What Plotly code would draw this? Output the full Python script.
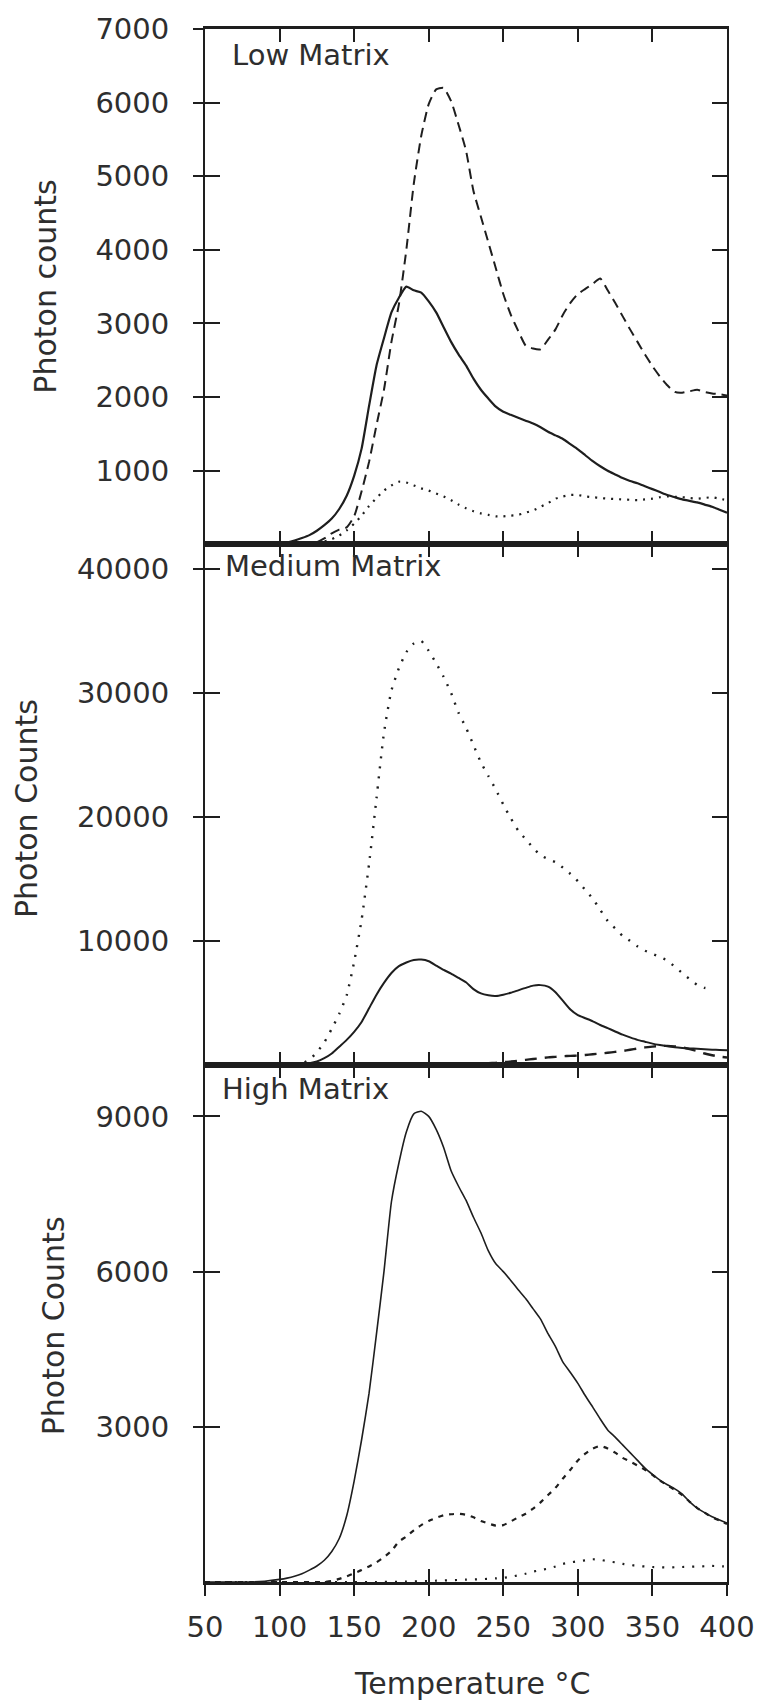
import plotly.graph_objects as go

# ---------------- data ----------------
temperature = [50, 60, 70, 80, 90,
               100, 105, 110, 115, 120, 125, 130, 135, 140, 145,
               150, 155, 160, 165, 170, 175, 180, 185, 190, 195,
               200, 205, 210, 215, 220, 225, 230, 235, 240, 245,
               250, 255, 260, 265, 270, 275, 280, 285, 290, 295,
               300, 305, 310, 315, 320, 325, 330, 335, 340, 345,
               350, 355, 360, 365, 370, 375, 380, 385, 390, 395,
               400]

low_solid = [0, 0, 0, 0, 3,
             10, 25, 50, 85, 125, 185, 260, 350, 480, 660,
             930, 1300, 1880, 2430, 2800, 3150, 3350, 3500, 3450, 3420,
             3300, 3150, 2950, 2750, 2580, 2430, 2250, 2100, 1980, 1870,
             1800, 1760, 1720, 1680, 1640, 1590, 1530, 1480, 1430, 1360,
             1290, 1210, 1130, 1060, 1000, 950, 900, 860, 830, 790,
             750, 710, 670, 640, 610, 590, 570, 540, 510, 470,
             430]
low_dashed = [0, 0, 0, 0, 0,
              0, 0, 0, 5, 10, 30, 80, 150, 200, 230,
              380, 720, 1120, 1620, 2100, 2750, 3260, 4000, 4900, 5550,
              5980, 6180, 6200, 6020, 5700, 5350, 4800, 4450, 4100, 3750,
              3400, 3120, 2900, 2700, 2660, 2650, 2780, 2920, 3120, 3280,
              3400, 3470, 3540, 3610, 3450, 3280, 3100, 2920, 2750, 2580,
              2420, 2280, 2160, 2070, 2060, 2080, 2100, 2070, 2050, 2040,
              2020]
low_dotted = [0, 0, 0, 0, 0,
              0, 0, 0, 5, 10, 20, 40, 70, 120, 190,
              280, 390, 520, 630, 730, 800, 850, 840, 800, 760,
              730, 690, 650, 600, 540, 490, 450, 420, 400, 380,
              380, 390, 400, 430, 460, 510, 560, 620, 650, 670,
              670, 650, 640, 630, 620, 615, 610, 605, 600, 610,
              620, 640, 650, 645, 640, 630, 620, 630, 640, 620,
              600]

med_solid = [0, 0, 0, 0, 0,
             0, 10, 30, 60, 120, 250, 520, 900, 1450, 2000,
             2650, 3450, 4550, 5650, 6600, 7400, 7950, 8250, 8450, 8480,
             8350, 8000, 7650, 7350, 7000, 6650, 6100, 5750, 5600, 5550,
             5650, 5800, 6000, 6200, 6380, 6420, 6300, 5850, 5150, 4450,
             4000, 3750, 3500, 3200, 2950, 2680, 2420, 2200, 2000, 1850,
             1700, 1580, 1480, 1400, 1350, 1310, 1280, 1240, 1210, 1180,
             1160]
med_dashed = [0, 0, 0, 0, 0,
              0, 0, 0, 0, 0, 0, 0, 0, 0, 0,
              0, 0, 0, 0, 0, 0, 0, 10, 20, 20,
              30, 30, 40, 40, 50, 50, 70, 90, 120, 150,
              200, 250, 320, 390, 460, 520, 590, 630, 680, 710,
              730, 780, 840, 900, 960, 1030, 1100, 1200, 1300, 1400,
              1460, 1510, 1520, 1480, 1400, 1250, 1100, 900, 760, 650,
              580]
med_dotted = [0, 0, 0, 0, 0,
              0, 0, 0, 100, 400, 1000, 1800, 2900, 4100, 5600,
              8300, 11700, 16200, 21500, 26800, 30200, 32000, 33300, 34000, 34200,
              33400, 32400, 31300, 30000, 28400, 27200, 25800, 24400, 23300, 22200,
              21000, 19900, 18900, 18200, 17500, 16900, 16600, 16350, 15900, 15400,
              14800, 14100, 13400, 12500, 11600, 11000, 10400, 10000, 9550, 9200,
              8950, 8700, 8400, 7900, 7400, 6900, 6450, 6200, 6100, None,
              None]

high_solid = [0, 0, 0, 0, 15,
              50, 75, 110, 160, 230, 310, 420, 590, 840, 1280,
              1950, 2750, 3650, 4800, 6000, 7350, 8100, 8700, 9050, 9100,
              9000, 8750, 8400, 7950, 7650, 7380, 7050, 6750, 6400, 6150,
              6000, 5830, 5650, 5480, 5280, 5080, 4800, 4550, 4250, 4050,
              3840, 3600, 3380, 3150, 2940, 2800, 2650, 2500, 2350, 2200,
              2080, 1970, 1880, 1800, 1700, 1550, 1430, 1340, 1260, 1200,
              1140]
high_dashed = [0, 0, 0, 0, 0,
               0, 0, 0, 0, 0, 0, 0, 20, 60, 110,
               170, 230, 300, 380, 480, 600, 780, 880, 1000, 1100,
               1180, 1240, 1290, 1310, 1320, 1300, 1250, 1180, 1130, 1090,
               1100, 1170, 1250, 1320, 1420, 1540, 1680, 1820, 2000, 2170,
               2350, 2480, 2580, 2630, 2580, 2500, 2400, 2330, 2250, 2170,
               2070, 1960, 1870, 1780, 1680, 1550, 1430, 1340, 1250, 1190,
               1120]
high_dotted = [0, 0, 0, 0, 0,
               0, 0, 0, 0, 0, 0, 0, 0, 0, 0,
               0, 0, 0, 0, 0, 5, 5, 10, 10, 15,
               20, 25, 30, 35, 40, 45, 50, 55, 60, 70,
               80, 100, 130, 160, 200, 230, 260, 300, 350, 380,
               400, 420, 440, 430, 400, 380, 350, 330, 310, 300,
               290, 285, 280, 285, 290, 295, 300, 305, 310, 305,
               300]

x_ticks = [50, 100, 150, 200, 250, 300, 350, 400]
x_tick_text = ["50", "100", "150", "200", "250", "300", "350", "400"]
low_ticks = [1000, 2000, 3000, 4000, 5000, 6000, 7000]
low_tick_text = ["1000", "2000", "3000", "4000", "5000", "6000", "7000"]
med_ticks = [10000, 20000, 30000, 40000]
med_tick_text = ["10000", "20000", "30000", "40000"]
high_ticks = [3000, 6000, 9000]
high_tick_text = ["3000", "6000", "9000"]

panel_labels = ["Low Matrix", "Medium Matrix", "High Matrix"]
y_titles = ["Photon counts", "Photon Counts", "Photon Counts"]
x_title = "Temperature °C"

# ---------------- layout geometry ----------------
W, H = 767, 1701
ML, MR, MT, MB = 205, 40, 27, 119
PH = H - MT - MB
PW = W - ML - MR


def py(pix):
    return (H - MB - pix) / PH


def px(pix):
    return (pix - ML) / PW


INK = "#1e1e1e"
TXT = "#2e2e2e"
FONT = "DejaVu Sans"
FS = 29

dom_top = [py(543), 1.0]
dom_mid = [py(1064), py(543)]
dom_bot = [0.0, py(1064)]

fig = go.Figure()


def add(y, xa, ya, dash, width):
    fig.add_trace(go.Scatter(
        x=temperature, y=y, xaxis=xa, yaxis=ya, mode="lines",
        line=dict(color=INK, width=width, dash=dash, shape="spline", smoothing=0.5),
        connectgaps=False, showlegend=False, hoverinfo="skip"))


# top panel (x, y)
add(low_dotted, "x", "y", "2px,6px", 2.2)
add(low_dashed, "x", "y", "10px,6px", 2.0)
add(low_solid, "x", "y", "solid", 2.2)
# middle panel (x2, y2)
add(med_dotted, "x2", "y2", "2px,8px", 2.4)
add(med_dashed, "x2", "y2", "12px,8px", 2.4)
add(med_solid, "x2", "y2", "solid", 2.0)
# bottom panel (x3, y3)
add(high_dotted, "x3", "y3", "2px,8px", 2.2)
add(high_dashed, "x3", "y3", "5px,6px", 2.2)
add(high_solid, "x3", "y3", "solid", 1.6)

# empty traces binding the overlay axes
for xa, ya in [("x", "y4"), ("x2", "y5"), ("x3", "y6"), ("x4", "y3")]:
    fig.add_trace(go.Scatter(x=[None], y=[None], xaxis=xa, yaxis=ya, mode="lines",
                             showlegend=False, hoverinfo="skip"))

tickfont = dict(family=FONT, size=FS, color=TXT)

xbase = dict(range=[50, 400], tickvals=x_ticks, ticktext=x_tick_text,
             ticks="inside", ticklen=13, tickwidth=2, tickcolor=INK,
             mirror="ticks", showline=True, linewidth=3, linecolor=INK,
             showgrid=False, zeroline=False, showticklabels=False, fixedrange=True)
ybase = dict(ticks="inside", ticklen=15, tickwidth=2, tickcolor=INK,
             mirror="ticks", showline=True, linewidth=2, linecolor=INK,
             showgrid=False, zeroline=False, showticklabels=False, fixedrange=True)
yout = dict(ticks="outside", ticklen=11, tickwidth=2, tickcolor=INK, side="left",
            showline=False, showgrid=False, zeroline=False, showticklabels=True,
            tickfont=tickfont, ticklabelstandoff=18, fixedrange=True)

fig.update_layout(
    width=W, height=H,
    margin=dict(l=ML, r=MR, t=MT, b=MB),
    paper_bgcolor="white", plot_bgcolor="white",
    showlegend=False,
    xaxis=dict(xbase, domain=[0, 1], anchor="y"),
    xaxis2=dict(xbase, domain=[0, 1], anchor="y2"),
    xaxis3=dict(xbase, domain=[0, 1], anchor="y3"),
    xaxis4=dict(range=[50, 400], tickvals=x_ticks, ticktext=x_tick_text,
                overlaying="x3", anchor="y3", side="bottom",
                ticks="outside", ticklen=13, tickwidth=2, tickcolor=INK,
                showline=False, showgrid=False, zeroline=False,
                showticklabels=True, tickfont=tickfont, ticklabelstandoff=6,
                fixedrange=True),
    yaxis=dict(ybase, domain=dom_top, anchor="x", range=[0, 7000], tickvals=low_ticks),
    yaxis2=dict(ybase, domain=dom_mid, anchor="x2", range=[0, 42000], tickvals=med_ticks),
    yaxis3=dict(ybase, domain=dom_bot, anchor="x3", range=[0, 10000], tickvals=high_ticks),
    yaxis4=dict(yout, overlaying="y", anchor="x", range=[0, 7000],
                tickvals=low_ticks, ticktext=low_tick_text),
    yaxis5=dict(yout, overlaying="y2", anchor="x2", range=[0, 42000],
                tickvals=med_ticks, ticktext=med_tick_text),
    yaxis6=dict(yout, overlaying="y3", anchor="x3", range=[0, 10000],
                tickvals=high_ticks, ticktext=high_tick_text),
)

ann = []
# panel labels
for text, xpix, ypix in zip(panel_labels, [230, 223, 220], [53, 565, 1088]):
    ann.append(dict(text=text, xref="paper", yref="paper", x=px(xpix), y=py(ypix),
                    xanchor="left", yanchor="middle", showarrow=False,
                    font=dict(family=FONT, size=FS, color=TXT)))
# y titles
for text, xpix, ypix in zip(y_titles, [46, 27, 53], [285, 808, 1326]):
    ann.append(dict(text=text, xref="paper", yref="paper", x=px(xpix), y=py(ypix),
                    xanchor="center", yanchor="middle", showarrow=False, textangle=-90,
                    font=dict(family=FONT, size=30, color=TXT)))
# x title
ann.append(dict(text=x_title, xref="paper", yref="paper", x=px(472), y=py(1684),
                xanchor="center", yanchor="middle", showarrow=False,
                font=dict(family=FONT, size=30, color=TXT)))
fig.update_layout(annotations=ann)

fig.write_html("out.html")
